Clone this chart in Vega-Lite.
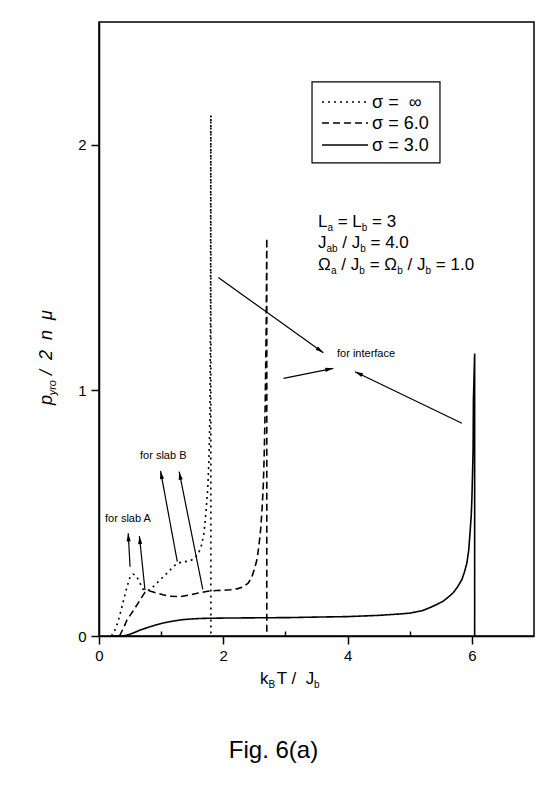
{
  "$schema": "https://vega.github.io/schema/vega-lite/v6.json",
  "width": 435,
  "height": 614,
  "autosize": "none",
  "padding": {"left": 99, "top": 22, "right": 18, "bottom": 155},
  "background": "white",
  "title": {"text": "Fig. 6(a)", "orient": "bottom", "frame": "group", "anchor": "middle", "offset": 68, "dx": -43, "fontSize": 24, "fontWeight": "normal", "font": "Liberation Sans", "color": "black", "baseline": "alphabetic"},
  "config": {
    "font": "Liberation Sans",
    "view": {"stroke": "black", "strokeWidth": 1.5},
    "axis": {"domainColor": "black", "domainWidth": 1.5, "tickColor": "black", "tickWidth": 1.5, "labelColor": "black", "labelFontSize": 15, "labelFont": "Liberation Sans", "grid": false, "labelPadding": 4}
  },
  "datasets": {
    "curves": [
      {"s": "σ =\u00a0\u00a0∞", "x": 0.20, "y": 0}, {"s": "σ =\u00a0\u00a0∞", "x": 0.27, "y": 0.03}, {"s": "σ =\u00a0\u00a0∞", "x": 0.33, "y": 0.08}, {"s": "σ =\u00a0\u00a0∞", "x": 0.39, "y": 0.14}, {"s": "σ =\u00a0\u00a0∞", "x": 0.45, "y": 0.20}, {"s": "σ =\u00a0\u00a0∞", "x": 0.50, "y": 0.24}, {"s": "σ =\u00a0\u00a0∞", "x": 0.55, "y": 0.252}, {"s": "σ =\u00a0\u00a0∞", "x": 0.60, "y": 0.245}, {"s": "σ =\u00a0\u00a0∞", "x": 0.65, "y": 0.22}, {"s": "σ =\u00a0\u00a0∞", "x": 0.71, "y": 0.19}, {"s": "σ =\u00a0\u00a0∞", "x": 0.78, "y": 0.185}, {"s": "σ =\u00a0\u00a0∞", "x": 0.85, "y": 0.195}, {"s": "σ =\u00a0\u00a0∞", "x": 0.93, "y": 0.215}, {"s": "σ =\u00a0\u00a0∞", "x": 1.01, "y": 0.235}, {"s": "σ =\u00a0\u00a0∞", "x": 1.09, "y": 0.255}, {"s": "σ =\u00a0\u00a0∞", "x": 1.17, "y": 0.275}, {"s": "σ =\u00a0\u00a0∞", "x": 1.25, "y": 0.295}, {"s": "σ =\u00a0\u00a0∞", "x": 1.35, "y": 0.302}, {"s": "σ =\u00a0\u00a0∞", "x": 1.46, "y": 0.305}, {"s": "σ =\u00a0\u00a0∞", "x": 1.53, "y": 0.315}, {"s": "σ =\u00a0\u00a0∞", "x": 1.60, "y": 0.335}, {"s": "σ =\u00a0\u00a0∞", "x": 1.65, "y": 0.37}, {"s": "σ =\u00a0\u00a0∞", "x": 1.69, "y": 0.42}, {"s": "σ =\u00a0\u00a0∞", "x": 1.72, "y": 0.50}, {"s": "σ =\u00a0\u00a0∞", "x": 1.75, "y": 0.60}, {"s": "σ =\u00a0\u00a0∞", "x": 1.77, "y": 0.72}, {"s": "σ =\u00a0\u00a0∞", "x": 1.785, "y": 0.90}, {"s": "σ =\u00a0\u00a0∞", "x": 1.795, "y": 1.30}, {"s": "σ =\u00a0\u00a0∞", "x": 1.80, "y": 2.12}, {"s": "σ =\u00a0\u00a0∞", "x": 1.80, "y": 0},
      {"s": "σ = 6.0", "x": 0.33, "y": 0}, {"s": "σ = 6.0", "x": 0.39, "y": 0.03}, {"s": "σ = 6.0", "x": 0.45, "y": 0.065}, {"s": "σ = 6.0", "x": 0.53, "y": 0.095}, {"s": "σ = 6.0", "x": 0.61, "y": 0.126}, {"s": "σ = 6.0", "x": 0.68, "y": 0.155}, {"s": "σ = 6.0", "x": 0.74, "y": 0.178}, {"s": "σ = 6.0", "x": 0.79, "y": 0.185}, {"s": "σ = 6.0", "x": 0.86, "y": 0.18}, {"s": "σ = 6.0", "x": 0.93, "y": 0.175}, {"s": "σ = 6.0", "x": 1.03, "y": 0.168}, {"s": "σ = 6.0", "x": 1.14, "y": 0.162}, {"s": "σ = 6.0", "x": 1.30, "y": 0.16}, {"s": "σ = 6.0", "x": 1.46, "y": 0.167}, {"s": "σ = 6.0", "x": 1.60, "y": 0.175}, {"s": "σ = 6.0", "x": 1.75, "y": 0.182}, {"s": "σ = 6.0", "x": 1.89, "y": 0.185}, {"s": "σ = 6.0", "x": 2.00, "y": 0.186}, {"s": "σ = 6.0", "x": 2.11, "y": 0.188}, {"s": "σ = 6.0", "x": 2.22, "y": 0.192}, {"s": "σ = 6.0", "x": 2.32, "y": 0.20}, {"s": "σ = 6.0", "x": 2.40, "y": 0.215}, {"s": "σ = 6.0", "x": 2.46, "y": 0.24}, {"s": "σ = 6.0", "x": 2.51, "y": 0.28}, {"s": "σ = 6.0", "x": 2.54, "y": 0.31}, {"s": "σ = 6.0", "x": 2.57, "y": 0.36}, {"s": "σ = 6.0", "x": 2.60, "y": 0.43}, {"s": "σ = 6.0", "x": 2.625, "y": 0.52}, {"s": "σ = 6.0", "x": 2.645, "y": 0.62}, {"s": "σ = 6.0", "x": 2.66, "y": 0.75}, {"s": "σ = 6.0", "x": 2.675, "y": 0.95}, {"s": "σ = 6.0", "x": 2.69, "y": 1.25}, {"s": "σ = 6.0", "x": 2.70, "y": 1.62}, {"s": "σ = 6.0", "x": 2.70, "y": 0},
      {"s": "σ = 3.0", "x": 0.20, "y": 0}, {"s": "σ = 3.0", "x": 0.35, "y": 0}, {"s": "σ = 3.0", "x": 0.45, "y": 0.003}, {"s": "σ = 3.0", "x": 0.55, "y": 0.012}, {"s": "σ = 3.0", "x": 0.66, "y": 0.024}, {"s": "σ = 3.0", "x": 0.80, "y": 0.036}, {"s": "σ = 3.0", "x": 0.93, "y": 0.046}, {"s": "σ = 3.0", "x": 1.05, "y": 0.054}, {"s": "σ = 3.0", "x": 1.20, "y": 0.061}, {"s": "σ = 3.0", "x": 1.33, "y": 0.066}, {"s": "σ = 3.0", "x": 1.46, "y": 0.069}, {"s": "σ = 3.0", "x": 1.60, "y": 0.071}, {"s": "σ = 3.0", "x": 1.73, "y": 0.072}, {"s": "σ = 3.0", "x": 2.00, "y": 0.073}, {"s": "σ = 3.0", "x": 2.50, "y": 0.074}, {"s": "σ = 3.0", "x": 3.07, "y": 0.075}, {"s": "σ = 3.0", "x": 3.50, "y": 0.077}, {"s": "σ = 3.0", "x": 4.00, "y": 0.079}, {"s": "σ = 3.0", "x": 4.50, "y": 0.084}, {"s": "σ = 3.0", "x": 4.80, "y": 0.089}, {"s": "σ = 3.0", "x": 5.00, "y": 0.093}, {"s": "σ = 3.0", "x": 5.20, "y": 0.103}, {"s": "σ = 3.0", "x": 5.33, "y": 0.116}, {"s": "σ = 3.0", "x": 5.45, "y": 0.13}, {"s": "σ = 3.0", "x": 5.54, "y": 0.142}, {"s": "σ = 3.0", "x": 5.63, "y": 0.16}, {"s": "σ = 3.0", "x": 5.70, "y": 0.176}, {"s": "σ = 3.0", "x": 5.77, "y": 0.20}, {"s": "σ = 3.0", "x": 5.84, "y": 0.23}, {"s": "σ = 3.0", "x": 5.88, "y": 0.26}, {"s": "σ = 3.0", "x": 5.92, "y": 0.297}, {"s": "σ = 3.0", "x": 5.95, "y": 0.35}, {"s": "σ = 3.0", "x": 5.97, "y": 0.418}, {"s": "σ = 3.0", "x": 5.99, "y": 0.49}, {"s": "σ = 3.0", "x": 6.00, "y": 0.554}, {"s": "σ = 3.0", "x": 6.01, "y": 0.65}, {"s": "σ = 3.0", "x": 6.02, "y": 0.76}, {"s": "σ = 3.0", "x": 6.025, "y": 0.96}, {"s": "σ = 3.0", "x": 6.045, "y": 1.15}, {"s": "σ = 3.0", "x": 6.045, "y": 0}
    ],
    "legendbox": [
      {"x": 3.428, "x2": 5.487, "y": 2.256, "y2": 1.926}
    ],
    "legendlines": [
      {"s": "σ =\u00a0\u00a0∞", "x": 3.589, "x2": 4.329, "y": 2.174, "ly": 2.150},
      {"s": "σ = 6.0", "x": 3.589, "x2": 4.329, "y": 2.089, "ly": 2.064},
      {"s": "σ = 3.0", "x": 3.589, "x2": 4.329, "y": 1.999, "ly": 1.975}
    ],
    "arrows": [
      {"x": 0.50, "y": 0.282, "x2": 0.47, "y2": 0.418},
      {"x": 0.74, "y": 0.187, "x2": 0.65, "y2": 0.407},
      {"x": 1.26, "y": 0.303, "x2": 0.99, "y2": 0.672},
      {"x": 1.67, "y": 0.19, "x2": 1.29, "y2": 0.669},
      {"x": 1.92, "y": 1.46, "x2": 3.61, "y2": 1.153},
      {"x": 2.97, "y": 1.049, "x2": 3.77, "y2": 1.09},
      {"x": 5.84, "y": 0.866, "x2": 4.12, "y2": 1.076}
    ],
    "notes": [
      {"x": 3.524, "y": 1.6653, "t": "L"}, {"x": 3.841, "y": 1.6653, "t": "= L"}, {"x": 4.395, "y": 1.6653, "t": "= 3"},
      {"x": 3.524, "y": 1.5778, "t": "J"}, {"x": 3.915, "y": 1.5778, "t": "/ J"}, {"x": 4.369, "y": 1.5778, "t": "= 4.0"},
      {"x": 3.524, "y": 1.4902, "t": "Ω"}, {"x": 3.899, "y": 1.4902, "t": "/ J"}, {"x": 4.355, "y": 1.4902, "t": "= Ω"}, {"x": 4.966, "y": 1.4902, "t": "/ J"}, {"x": 5.420, "y": 1.4902, "t": "= 1.0"},
      {"x": 2.591, "y": -0.1954, "t": "k"}, {"x": 2.86, "y": -0.1954, "t": "T /\u00a0\u00a0J"}
    ],
    "subs": [
      {"x": 3.677, "y": 1.649, "t": "a"}, {"x": 4.229, "y": 1.649, "t": "b"},
      {"x": 3.661, "y": 1.5615, "t": "ab"}, {"x": 4.205, "y": 1.5615, "t": "b"},
      {"x": 3.735, "y": 1.4739, "t": "a"}, {"x": 4.189, "y": 1.4739, "t": "b"}, {"x": 4.800, "y": 1.4739, "t": "b"}, {"x": 5.254, "y": 1.4739, "t": "b"},
      {"x": 2.728, "y": -0.2117, "t": "B"}, {"x": 3.46, "y": -0.2117, "t": "b"}
    ],
    "ytitle": [
      {"x": -0.756, "y": 0.9405, "t": "p"}, {"x": -0.756, "y": 1.063, "t": "/\u00a0\u00a02\u00a0\u00a0n\u00a0\u00a0μ"}
    ],
    "ytitlesub": [
      {"x": -0.692, "y": 0.98, "t": "yro"}
    ],
    "tags": [
      {"x": 0.0966, "y": 0.464, "t": "for slab A"},
      {"x": 0.660, "y": 0.7207, "t": "for slab B"},
      {"x": 3.830, "y": 1.136, "t": "for interface"}
    ]
  },
  "layer": [
    {
      "data": {"name": "curves"},
      "mark": {"type": "line", "color": "black", "strokeWidth": 1.6},
      "encoding": {
        "x": {"field": "x", "type": "quantitative", "title": null, "scale": {"domain": [0, 7], "nice": false, "zero": false},
          "axis": {"values": [0, 1, 2, 3, 4, 5, 6], "format": "d", "labelExpr": "datum.value % 2 === 0 ? datum.label : ''", "tickSize": {"condition": {"test": "datum.value % 2 === 1", "value": -5}, "value": 8}, "labelFlush": false, "labelOverlap": false, "labelPadding": 4}},
        "y": {"field": "y", "type": "quantitative", "title": null, "scale": {"domain": [0, 2.5], "nice": false, "zero": false},
          "axis": {"values": [0, 0.5, 1, 1.5, 2], "format": "d", "labelExpr": "datum.value % 1 === 0 ? datum.label : ''", "tickSize": {"condition": {"test": "datum.value % 1 !== 0", "value": 4}, "value": 8}, "labelFlush": false, "labelOverlap": false, "labelPadding": 5}},
        "strokeDash": {"field": "s", "type": "nominal",
          "scale": {"domain": ["σ =\u00a0\u00a0∞", "σ = 6.0", "σ = 3.0"], "range": [[2, 4], [7, 4], [1, 0]]},
          "legend": null}
      }
    },
    {
      "data": {"name": "legendbox"},
      "mark": {"type": "rect", "fill": null, "fillOpacity": 0, "stroke": "black", "strokeWidth": 1.2},
      "encoding": {
        "x": {"field": "x", "type": "quantitative", "title": null},
        "y": {"field": "y", "type": "quantitative", "title": null},
        "x2": {"field": "x2"},
        "y2": {"field": "y2"}
      }
    },
    {
      "data": {"name": "legendlines"},
      "mark": {"type": "rule", "color": "black", "strokeWidth": 1.6},
      "encoding": {
        "x": {"field": "x", "type": "quantitative", "title": null},
        "y": {"field": "y", "type": "quantitative", "title": null},
        "x2": {"field": "x2"},
        "strokeDash": {"field": "s", "type": "nominal", "legend": null}
      }
    },
    {
      "data": {"name": "legendlines"},
      "mark": {"type": "text", "align": "left", "baseline": "alphabetic", "fontSize": 18, "font": "Liberation Sans", "color": "black", "dx": 4},
      "encoding": {
        "x": {"field": "x2", "type": "quantitative", "title": null},
        "y": {"field": "ly", "type": "quantitative", "title": null},
        "text": {"field": "s"}
      }
    },
    {
      "data": {"name": "arrows"},
      "mark": {"type": "rule", "color": "black", "strokeWidth": 1.2},
      "encoding": {
        "x": {"field": "x", "type": "quantitative", "title": null},
        "y": {"field": "y", "type": "quantitative", "title": null},
        "x2": {"field": "x2"},
        "y2": {"field": "y2"}
      }
    },
    {
      "data": {"name": "arrows"},
      "transform": [{"calculate": "atan2((datum.x2 - datum.x) * 62.143, (datum.y2 - datum.y) * 245.6) * 180 / PI", "as": "ang"}],
      "mark": {"type": "point", "shape": "M0,0L-0.26,1L0.26,1Z", "filled": true, "color": "black", "size": 256, "opacity": 1, "strokeWidth": 0},
      "encoding": {
        "x": {"field": "x2", "type": "quantitative", "title": null},
        "y": {"field": "y2", "type": "quantitative", "title": null},
        "angle": {"field": "ang", "type": "quantitative", "scale": null}
      }
    },
    {
      "data": {"name": "notes"},
      "mark": {"type": "text", "align": "left", "baseline": "alphabetic", "fontSize": 17, "font": "Liberation Sans", "color": "black"},
      "encoding": {
        "x": {"field": "x", "type": "quantitative", "title": null},
        "y": {"field": "y", "type": "quantitative", "title": null},
        "text": {"field": "t"}
      }
    },
    {
      "data": {"name": "subs"},
      "mark": {"type": "text", "align": "left", "baseline": "alphabetic", "fontSize": 10, "font": "Liberation Sans", "color": "black"},
      "encoding": {
        "x": {"field": "x", "type": "quantitative", "title": null},
        "y": {"field": "y", "type": "quantitative", "title": null},
        "text": {"field": "t"}
      }
    },
    {
      "data": {"name": "ytitle"},
      "mark": {"type": "text", "align": "left", "baseline": "alphabetic", "angle": 270, "fontSize": 18, "fontStyle": "italic", "font": "Liberation Sans", "color": "black"},
      "encoding": {
        "x": {"field": "x", "type": "quantitative", "title": null},
        "y": {"field": "y", "type": "quantitative", "title": null},
        "text": {"field": "t"}
      }
    },
    {
      "data": {"name": "ytitlesub"},
      "mark": {"type": "text", "align": "left", "baseline": "alphabetic", "angle": 270, "fontSize": 11, "fontStyle": "italic", "font": "Liberation Sans", "color": "black"},
      "encoding": {
        "x": {"field": "x", "type": "quantitative", "title": null},
        "y": {"field": "y", "type": "quantitative", "title": null},
        "text": {"field": "t"}
      }
    },
    {
      "data": {"name": "tags"},
      "mark": {"type": "text", "align": "left", "baseline": "alphabetic", "fontSize": 11, "font": "Liberation Sans", "color": "black"},
      "encoding": {
        "x": {"field": "x", "type": "quantitative", "title": null},
        "y": {"field": "y", "type": "quantitative", "title": null},
        "text": {"field": "t"}
      }
    }
  ]
}
